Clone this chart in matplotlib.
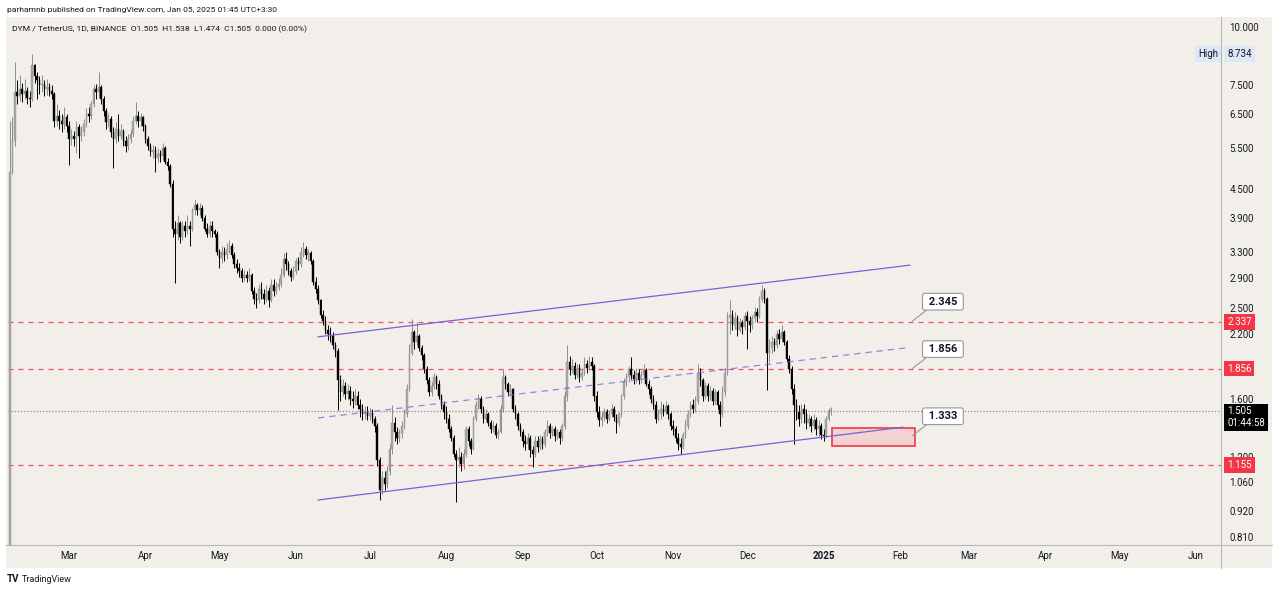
import numpy as np
import pandas as pd
import matplotlib
matplotlib.use("Agg")
import matplotlib.pyplot as plt
import matplotlib.dates as mdates
from matplotlib.patches import Rectangle
from matplotlib.lines import Line2D
from matplotlib.transforms import blended_transform_factory, offset_copy

plt.rcParams['font.family'] = ['Roboto', 'DejaVu Sans']

# --- daily candles DYM/USDT, 2024-02-06 .. 2025-01-04 ---
first_open = 0.60

feb_c = [4.90, 5.70, 7.25, 7.10, 7.35, 7.20, 7.30, 7.05, 7.00, 8.30,
         7.85, 7.70, 7.50, 7.55, 7.35, 7.45, 7.30, 7.20, 6.30, 6.45,
         6.30, 6.20, 6.40, 6.15]
feb_h = [6.30, 6.40, 8.40, 7.70, 7.90, 7.60, 7.75, 7.45, 7.30, 8.734,
         8.35, 8.00, 7.85, 7.90, 7.70, 7.75, 7.60, 7.50, 7.25, 6.85,
         6.65, 6.50, 6.75, 6.50]
feb_l = [0.50, 4.85, 5.55, 6.85, 6.95, 6.90, 7.00, 6.85, 6.75, 6.95,
         7.60, 7.00, 7.20, 7.25, 7.10, 7.15, 7.10, 7.00, 6.10, 6.15,
         6.05, 5.95, 6.05, 5.95]

mar_c = [5.75, 5.85, 5.75, 6.10, 5.85, 5.95, 6.20, 6.50, 6.45, 6.85,
         7.35, 7.25, 7.45, 7.00, 6.60, 6.25, 6.35, 5.95, 5.75, 6.05,
         5.85, 6.00, 5.70, 5.55, 5.75, 5.90, 6.30, 6.45, 6.30, 6.40,
         6.15]
mar_h = [6.30, 6.05, 6.00, 6.30, 6.20, 6.15, 6.35, 6.70, 6.75, 6.95,
         7.50, 7.55, 8.00, 7.50, 7.10, 6.70, 6.55, 6.45, 6.10, 6.25,
         6.50, 6.20, 6.05, 5.85, 5.90, 6.05, 6.45, 6.90, 6.60, 6.55,
         6.45]
mar_l = [5.06, 5.60, 5.55, 5.37, 5.25, 5.70, 5.85, 6.10, 6.25, 6.35,
         6.75, 7.00, 7.05, 6.85, 6.45, 6.05, 6.10, 5.80, 5.00, 5.65,
         5.70, 5.75, 5.55, 5.40, 5.45, 5.65, 5.80, 6.20, 6.10, 6.15,
         6.00]

apr_c = [5.75, 5.55, 5.40, 5.45, 5.25, 5.35, 5.30, 5.50, 5.15, 5.05,
         4.60, 3.70, 3.60, 3.80, 3.55, 3.75, 3.65, 3.75, 3.70, 4.05,
         4.15, 4.05, 4.10, 3.90, 3.70, 3.60, 3.75, 3.65, 3.60, 3.30]
apr_h = [6.20, 5.85, 5.65, 5.60, 5.55, 5.50, 5.45, 5.65, 5.55, 5.25,
         5.10, 4.70, 3.85, 3.95, 3.85, 3.85, 3.85, 3.95, 3.85, 4.10,
         4.25, 4.20, 4.20, 4.15, 3.95, 3.80, 3.85, 3.85, 3.70, 3.65]
apr_l = [5.65, 5.45, 5.30, 5.25, 4.90, 5.15, 5.15, 5.20, 5.10, 4.95,
         4.55, 3.55, 2.83, 3.50, 3.45, 3.50, 3.55, 3.60, 3.40, 3.65,
         3.95, 3.95, 3.95, 3.85, 3.65, 3.55, 3.55, 3.55, 3.55, 3.25]

may_c = [3.20, 3.30, 3.25, 3.35, 3.40, 3.25, 3.10, 3.05, 3.00, 2.90,
         2.95, 2.90, 2.95, 2.72, 2.62, 2.60, 2.75, 2.68, 2.62, 2.72,
         2.60, 2.80, 2.72, 2.78, 2.82, 2.95, 3.18, 3.10, 3.00, 2.92,
         3.00]
may_h = [3.35, 3.40, 3.38, 3.45, 3.50, 3.45, 3.30, 3.18, 3.12, 3.05,
         3.02, 3.00, 3.05, 2.98, 2.78, 2.70, 2.82, 2.85, 2.75, 2.80,
         2.78, 2.88, 2.88, 2.85, 2.90, 3.05, 3.28, 3.30, 3.15, 3.05,
         3.08]
may_l = [3.05, 3.12, 3.15, 3.18, 3.28, 3.20, 3.05, 2.98, 2.92, 2.85,
         2.86, 2.84, 2.86, 2.68, 2.55, 2.50, 2.56, 2.62, 2.55, 2.58,
         2.52, 2.58, 2.66, 2.68, 2.74, 2.78, 2.92, 3.02, 2.94, 2.86,
         2.88]

jun_c = [3.15, 3.10, 3.30, 3.35, 3.25, 3.28, 3.15, 2.85, 2.75, 2.60,
         2.42, 2.35, 2.25, 2.20, 2.18, 2.08, 2.02, 1.75, 1.65, 1.70,
         1.64, 1.66, 1.60, 1.58, 1.62, 1.55, 1.52, 1.48, 1.50, 1.47]
jun_h = [3.20, 3.22, 3.38, 3.47, 3.40, 3.35, 3.32, 3.18, 2.92, 2.80,
         2.62, 2.48, 2.40, 2.30, 2.28, 2.22, 2.12, 2.05, 1.80, 1.76,
         1.74, 1.72, 1.70, 1.66, 1.68, 1.66, 1.60, 1.56, 1.54, 1.54]
jun_l = [2.96, 3.02, 3.06, 3.22, 3.18, 3.16, 3.10, 2.80, 2.70, 2.55,
         2.38, 2.30, 2.20, 2.14, 2.12, 2.04, 1.96, 1.51, 1.58, 1.62,
         1.60, 1.59, 1.55, 1.53, 1.55, 1.52, 1.46, 1.44, 1.45, 1.44]

jul_c = [1.49, 1.45, 1.40, 1.18, 1.02, 1.08, 1.05, 1.12, 1.25, 1.42,
         1.36, 1.32, 1.35, 1.40, 1.48, 1.68, 2.00, 2.22, 2.12, 2.18,
         2.05, 1.98, 1.85, 1.75, 1.65, 1.70, 1.78, 1.72, 1.62, 1.55,
         1.50]
jul_h = [1.53, 1.52, 1.47, 1.42, 1.20, 1.12, 1.12, 1.15, 1.28, 1.55,
         1.46, 1.39, 1.38, 1.43, 1.52, 1.72, 2.10, 2.37, 2.24, 2.33,
         2.20, 2.08, 2.00, 1.88, 1.78, 1.74, 1.82, 1.80, 1.75, 1.64,
         1.58]
jul_l = [1.44, 1.42, 1.36, 1.15, 0.97, 1.00, 1.02, 1.03, 1.10, 1.22,
         1.30, 1.28, 1.29, 1.32, 1.38, 1.46, 1.66, 1.98, 2.04, 2.08,
         2.02, 1.94, 1.82, 1.72, 1.62, 1.62, 1.68, 1.68, 1.60, 1.52,
         1.45]

aug_c = [1.45, 1.38, 1.32, 1.22, 1.18, 1.20, 1.16, 1.22, 1.38, 1.30,
         1.25, 1.45, 1.55, 1.60, 1.52, 1.45, 1.48, 1.42, 1.38, 1.40,
         1.34, 1.36, 1.52, 1.78, 1.72, 1.65, 1.68, 1.52, 1.48, 1.40,
         1.36]
aug_h = [1.54, 1.48, 1.40, 1.34, 1.24, 1.26, 1.23, 1.25, 1.40, 1.40,
         1.32, 1.47, 1.58, 1.64, 1.62, 1.54, 1.52, 1.50, 1.44, 1.43,
         1.42, 1.38, 1.55, 1.85, 1.80, 1.74, 1.72, 1.69, 1.55, 1.50,
         1.42]
aug_l = [1.42, 1.36, 1.30, 1.20, 0.96, 1.14, 1.12, 1.13, 1.20, 1.27,
         1.22, 1.24, 1.43, 1.52, 1.49, 1.42, 1.43, 1.40, 1.35, 1.36,
         1.32, 1.31, 1.35, 1.50, 1.68, 1.62, 1.62, 1.50, 1.45, 1.37,
         1.33]

sep_c = [1.30, 1.28, 1.32, 1.24, 1.22, 1.30, 1.26, 1.31, 1.28, 1.36,
         1.40, 1.35, 1.38, 1.33, 1.36, 1.32, 1.40, 1.62, 1.92, 1.85,
         1.88, 1.80, 1.86, 1.78, 1.82, 1.90, 1.86, 1.92, 1.88, 1.62]
sep_h = [1.38, 1.34, 1.35, 1.34, 1.27, 1.33, 1.33, 1.34, 1.33, 1.38,
         1.44, 1.42, 1.40, 1.40, 1.38, 1.38, 1.42, 1.66, 2.08, 1.97,
         1.95, 1.92, 1.90, 1.90, 1.86, 1.96, 1.94, 1.97, 1.96, 1.90]
sep_l = [1.26, 1.24, 1.25, 1.20, 1.14, 1.20, 1.23, 1.24, 1.25, 1.26,
         1.33, 1.32, 1.33, 1.30, 1.31, 1.28, 1.30, 1.38, 1.58, 1.80,
         1.82, 1.76, 1.77, 1.74, 1.75, 1.80, 1.82, 1.84, 1.84, 1.58]

oct_c = [1.50, 1.44, 1.46, 1.50, 1.45, 1.48, 1.52, 1.46, 1.42, 1.48,
         1.62, 1.74, 1.78, 1.85, 1.80, 1.76, 1.82, 1.75, 1.80, 1.84,
         1.72, 1.68, 1.60, 1.55, 1.45, 1.48, 1.52, 1.50, 1.54, 1.48,
         1.40]
oct_h = [1.66, 1.54, 1.50, 1.53, 1.52, 1.51, 1.56, 1.54, 1.48, 1.50,
         1.64, 1.77, 1.82, 1.88, 1.96, 1.84, 1.86, 1.85, 1.83, 1.90,
         1.86, 1.75, 1.70, 1.63, 1.58, 1.52, 1.58, 1.56, 1.58, 1.56,
         1.50]
oct_l = [1.46, 1.40, 1.40, 1.43, 1.42, 1.43, 1.46, 1.43, 1.35, 1.40,
         1.46, 1.60, 1.70, 1.74, 1.76, 1.72, 1.73, 1.72, 1.73, 1.77,
         1.70, 1.64, 1.57, 1.52, 1.42, 1.43, 1.45, 1.47, 1.48, 1.45,
         1.37]

nov_c = [1.38, 1.32, 1.28, 1.26, 1.34, 1.40, 1.48, 1.55, 1.52, 1.58,
         1.82, 1.75, 1.62, 1.70, 1.62, 1.66, 1.58, 1.65, 1.55, 1.48,
         1.65, 1.82, 2.38, 2.42, 2.30, 2.38, 2.25, 2.32, 2.28, 2.40]
nov_h = [1.44, 1.40, 1.35, 1.32, 1.36, 1.44, 1.51, 1.58, 1.60, 1.62,
         1.90, 1.86, 1.77, 1.74, 1.73, 1.70, 1.69, 1.68, 1.67, 1.58,
         1.70, 1.86, 2.45, 2.60, 2.48, 2.45, 2.42, 2.38, 2.36, 2.45]
nov_l = [1.34, 1.29, 1.24, 1.22, 1.25, 1.32, 1.38, 1.46, 1.49, 1.50,
         1.56, 1.70, 1.58, 1.60, 1.58, 1.59, 1.55, 1.56, 1.52, 1.40,
         1.46, 1.62, 1.80, 2.20, 2.24, 2.26, 2.18, 2.22, 2.20, 2.25]

dec_c = [2.35, 2.30, 2.38, 2.45, 2.40, 2.62, 2.72, 2.62, 2.00, 2.05,
         2.12, 2.08, 2.20, 2.15, 2.22, 2.12, 1.95, 1.85, 1.68, 1.55,
         1.50, 1.45, 1.52, 1.48, 1.42, 1.45, 1.40, 1.44, 1.38, 1.40,
         1.34]
dec_h = [2.46, 2.40, 2.42, 2.52, 2.50, 2.66, 2.80, 2.76, 2.64, 2.15,
         2.18, 2.16, 2.24, 2.26, 2.30, 2.25, 2.14, 1.98, 1.88, 1.72,
         1.60, 1.55, 1.56, 1.56, 1.52, 1.48, 1.47, 1.48, 1.46, 1.44,
         1.42]
dec_l = [2.04, 2.22, 2.26, 2.34, 2.34, 2.38, 2.58, 2.56, 1.67, 1.92,
         2.00, 2.02, 2.05, 2.10, 2.12, 2.08, 1.92, 1.82, 1.64, 1.28,
         1.44, 1.40, 1.42, 1.42, 1.38, 1.39, 1.36, 1.37, 1.34, 1.33,
         1.31]

jan_c = [1.33, 1.45, 1.505, 1.505]
jan_h = [1.38, 1.47, 1.53, 1.538]
jan_l = [1.30, 1.32, 1.43, 1.474]

closes = feb_c + mar_c + apr_c + may_c + jun_c + jul_c + aug_c + sep_c + oct_c + nov_c + dec_c + jan_c
highs = feb_h + mar_h + apr_h + may_h + jun_h + jul_h + aug_h + sep_h + oct_h + nov_h + dec_h + jan_h
lows = feb_l + mar_l + apr_l + may_l + jun_l + jul_l + aug_l + sep_l + oct_l + nov_l + dec_l + jan_l
opens = [first_open] + closes[:-1]
dates = pd.date_range("2024-02-06", periods=len(closes), freq="D")

# --- drawings ---
levels = [2.337, 1.856, 1.155]
last_price = 1.505
countdown = "01:44:58"
chan_dates = ["2024-06-10 00:00", "2025-02-05 00:00"]
chan_upper = [2.17, 3.09]
chan_mid = [1.455, 2.06]
low_dates = ["2024-06-10 00:00", "2025-02-02 00:00"]
chan_lower = [0.971, 1.39]
zone_dates = ["2025-01-04 12:00", "2025-02-07 00:00"]
zone_prices = [1.27, 1.385]
callout_date = "2025-02-06"
callout_vals = [2.345, 1.856, 1.333]

yticks = [10.0, 7.5, 6.5, 5.5, 4.5, 3.9, 3.3, 2.9, 2.5, 2.2, 1.6, 1.2, 1.06, 0.92, 0.81]
month_ticks = ["2024-03-01", "2024-04-01", "2024-05-01", "2024-06-01", "2024-07-01", "2024-08-01",
               "2024-09-01", "2024-10-01", "2024-11-01", "2024-12-01", "2025-01-01", "2025-02-01",
               "2025-03-01", "2025-04-01", "2025-05-01", "2025-06-01"]
month_labels = ["Mar", "Apr", "May", "Jun", "Jul", "Aug", "Sep", "Oct", "Nov", "Dec",
                "2025", "Feb", "Mar", "Apr", "May", "Jun"]

# --- style ---
BG = "#f2efea"
TXT = "#131722"
RED = "#f23645"
PURPLE = "#7b5fd6"
GRID = "#b8b8b8"

W, H = 1280, 592
def fx(px): return px / W
def fy(py): return 1 - py / H

def dnum(lst):
    return mdates.date2num(pd.to_datetime(lst, format="%Y-%m-%d %H:%M"))

fig = plt.figure(figsize=(W / 100, H / 100), dpi=100)
fig.patch.set_facecolor("white")
fig.patches.append(Rectangle((fx(6), fy(568)), fx(1272) - fx(6), fy(17) - fy(568),
                             transform=fig.transFigure, facecolor=BG, edgecolor="none", zorder=-10))

ax = fig.add_axes([fx(8), fy(545), fx(1221) - fx(8), fy(18) - fy(545)])
ax.set_facecolor(BG)
ax.set_yscale("log")
ax.set_ylim(0.7777, 10.45)
ax.set_xlim(mdates.date2num(pd.Timestamp("2024-02-05 06:00")),
            mdates.date2num(pd.Timestamp("2025-06-11 04:00")))

# candles
x = mdates.date2num(dates)
o = np.array(opens); c = np.array(closes)
h = np.maximum(np.array(highs), np.maximum(o, c))
l = np.minimum(np.array(lows), np.minimum(o, c))
up = c >= o
bot = np.minimum(o, c)
top = np.maximum(np.maximum(o, c), bot * 1.004)
ax.vlines(x[up], l[up], h[up], color="#8c8c8c", lw=0.7, zorder=3)
ax.vlines(x[~up], l[~up], h[~up], color="#000000", lw=0.7, zorder=3)
ax.bar(x[up], (top - bot)[up], bottom=bot[up], width=0.62, color="#a8a8a8",
       edgecolor="#8c8c8c", lw=0.3, zorder=4)
ax.bar(x[~up], (top - bot)[~up], bottom=bot[~up], width=0.62, color="#000000",
       edgecolor="#000000", lw=0.3, zorder=4)

# horizontal levels
for v in levels:
    ax.axhline(v, color=RED, lw=0.9, ls=(0, (4, 4)), alpha=0.85, zorder=2)
ax.axhline(last_price, color="#8a8a8a", lw=0.9, ls=(0, (1, 1.5)), zorder=2)

# channel
cd = dnum(chan_dates)
ld = dnum(low_dates)
ax.plot(cd, chan_upper, color=PURPLE, lw=0.9, zorder=5)
ax.plot(cd, chan_mid, color=PURPLE, lw=0.9, ls=(0, (5, 4)), alpha=0.75, zorder=5)
ax.plot(ld, chan_lower, color=PURPLE, lw=0.9, zorder=5)

# demand zone
zd = dnum(zone_dates)
ax.add_patch(Rectangle((zd[0], zone_prices[0]), zd[1] - zd[0], zone_prices[1] - zone_prices[0],
                       facecolor=RED, alpha=0.15, edgecolor="none", zorder=4))
ax.add_patch(Rectangle((zd[0], zone_prices[0]), zd[1] - zd[0], zone_prices[1] - zone_prices[0],
                       facecolor="none", edgecolor=RED, lw=1.2, zorder=4))

# callouts
cx = mdates.date2num(pd.Timestamp(callout_date))
for v in callout_vals:
    ax.annotate(f" {v:.3f} ", xy=(cx, v), xytext=(22, 14), textcoords="offset points",
                ha="center", va="center", fontsize=8, fontweight="bold", color=TXT,
                bbox=dict(boxstyle="round,pad=0.3,rounding_size=0.2", fc="white", ec="#9598a1", lw=0.8),
                arrowprops=dict(arrowstyle="-", color="#9598a1", lw=0.8, relpos=(0.15, 0.0),
                                shrinkA=0, shrinkB=0), zorder=6)

# axes / ticks
for s in ["top", "left", "right", "bottom"]:
    ax.spines[s].set_visible(False)
ax.yaxis.tick_right()
ax.yaxis.set_minor_locator(matplotlib.ticker.NullLocator())
ax.set_yticks(yticks)
ax.set_yticklabels([f"{v:.3f}" for v in yticks])
ax.tick_params(axis="y", length=0, pad=6, labelsize=7, labelcolor=TXT)
ax.set_xticks(mdates.date2num(pd.to_datetime(month_ticks)))
ax.set_xticklabels(month_labels)
ax.tick_params(axis="x", length=0, pad=4, labelsize=7, labelcolor=TXT)
for t in ax.get_xticklabels():
    if t.get_text() == "2025":
        t.set_fontweight("bold")

fig.add_artist(Line2D([fx(6), fx(1272)], [fy(545), fy(545)], transform=fig.transFigure, color=GRID, lw=0.8))
fig.add_artist(Line2D([fx(1221), fx(1221)], [fy(17), fy(568)], transform=fig.transFigure, color=GRID, lw=0.8))

# price-scale labels
tr = blended_transform_factory(ax.transAxes, ax.transData)
xa = 1 + 6 / 1213
for v in levels:
    ax.text(xa, v, f"{v:.3f}", transform=tr, ha="left", va="center", fontsize=7, color="white",
            bbox=dict(boxstyle="square,pad=0.3", fc=RED, ec="none"), clip_on=False, zorder=8)
tr_down = offset_copy(tr, fig=fig, y=-6, units="dots")
ax.text(xa, last_price, f"{last_price:.3f}\n{countdown}", transform=tr_down, ha="left", va="center",
        fontsize=7, color="white", linespacing=1.15,
        bbox=dict(boxstyle="square,pad=0.3", fc="#000000", ec="none"), clip_on=False, zorder=8)
ax.text(xa, max(highs), f"{max(highs):.3f}", transform=tr, ha="left", va="center", fontsize=7,
        color=TXT, bbox=dict(boxstyle="square,pad=0.3", fc="#dce8f7", ec="none"), clip_on=False, zorder=8)
ax.text(1 - 3 / 1213, max(highs), "High", transform=tr, ha="right", va="center", fontsize=7,
        color=TXT, bbox=dict(boxstyle="square,pad=0.3", fc="#dce8f7", ec="none"), clip_on=False, zorder=8)

# header / footer
fig.text(fx(7), fy(10), "parhamnb published on TradingView.com, Jan 05, 2025 01:45 UTC+3:30",
         fontsize=6.0, color=TXT, va="center")
fig.text(fx(12), fy(29), "DYM / TetherUS, 1D, BINANCE  O1.505  H1.538  L1.474  C1.505  0.000 (0.00%)",
         fontsize=6.1, color=TXT, va="center")
fig.text(fx(7), fy(579), "TV", fontsize=7, fontweight="bold", color=TXT, va="center")
fig.text(fx(22), fy(579), "TradingView", fontsize=6.5, color=TXT, va="center")

fig.savefig("out.png", dpi=100, facecolor=fig.get_facecolor())
